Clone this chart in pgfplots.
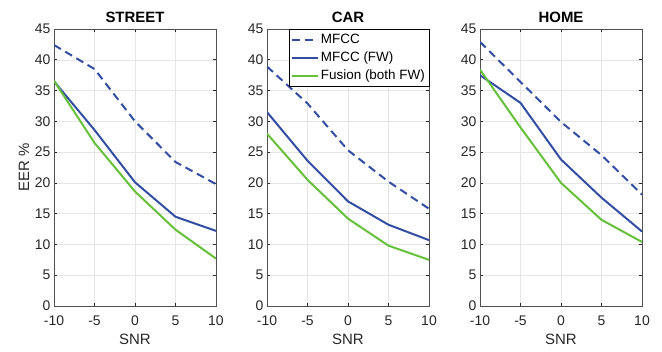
\documentclass[border=0pt]{standalone}
\usepackage{fontspec}
\setmainfont{Liberation Sans}
\usepackage{pgfplots}
\pgfplotsset{compat=1.18}
\definecolor{mblue}{RGB}{50,78,162}
\definecolor{mgreen}{RGB}{102,192,58}
\definecolor{axgray}{RGB}{38,38,38}
\pgfplotsset{
  panel/.style={
    scale only axis, width=162bp, height=277bp,
    xmin=-10, xmax=10, ymin=0, ymax=45,
    xtick={-10,-5,0,5,10}, ytick={0,5,...,45},
    grid=major, major grid style={gray!20, line width=0.5pt},
    axis line style={axgray!80, line width=0.7pt},
    tick style={axgray, line width=0.6pt},
    tick align=inside, major tick length=3bp,
    ticklabel style={font=\fontsize{14}{16}\selectfont, text=axgray},
    xticklabel style={yshift=-6bp},
    /pgf/number format/assume math mode=true,
    xlabel={SNR},
    xlabel style={font=\fontsize{15}{17}\selectfont, text=axgray, yshift=-2bp},
    title style={font=\bfseries\fontsize{15}{17}\selectfont, yshift=-3bp},
    anchor=south west,
  },
  mf/.style={mblue, line width=2pt, dash pattern=on 8bp off 5bp},
  fw/.style={mblue, line width=2pt},
  fu/.style={mgreen, line width=2pt},
}
\begin{document}
\begin{tikzpicture}
\useasboundingbox (0,0) rectangle (662bp,352bp);
\begin{axis}[panel, at={(54bp,46bp)}, title={STREET},
  ylabel={EER \%}, ylabel style={font=\fontsize{15}{17}\selectfont, text=axgray, yshift=-1bp}]
\addplot[mf] coordinates {(-10,42.4) (-5,38.5) (0,30.0) (5,23.4) (10,19.8)};
\addplot[fw] coordinates {(-10,36.5) (-5,28.6) (0,20.1) (5,14.5) (10,12.2)};
\addplot[fu] coordinates {(-10,36.6) (-5,26.5) (0,18.6) (5,12.4) (10,7.7)};
\end{axis}
\begin{axis}[panel, at={(267bp,46bp)}, title={CAR},
  legend style={at={(1,1)}, anchor=north east, draw=black, fill=white,
    font=\fontsize{13.5}{15}\selectfont, inner xsep=2pt, inner ysep=3pt, row sep=3pt,
    cells={anchor=west}},
  legend image code/.code={\draw[#1] (0bp,0bp) -- (26bp,0bp);}]
\addplot[mf] coordinates {(-10,38.9) (-5,32.9) (0,25.3) (5,20.2) (10,15.8)};
\addlegendentry{MFCC}
\addplot[fw] coordinates {(-10,31.5) (-5,23.6) (0,17.0) (5,13.2) (10,10.7)};
\addlegendentry{MFCC (FW)}
\addplot[fu] coordinates {(-10,28.0) (-5,20.5) (0,14.2) (5,9.8) (10,7.5)};
\addlegendentry{Fusion (both FW)}
\end{axis}
\begin{axis}[panel, at={(480bp,46bp)}, title={HOME}]
\addplot[mf] coordinates {(-10,42.9) (-5,36.4) (0,29.9) (5,24.5) (10,18.1)};
\addplot[fw] coordinates {(-10,37.5) (-5,33.0) (0,23.8) (5,17.6) (10,12.1)};
\addplot[fu] coordinates {(-10,38.4) (-5,29.0) (0,20.0) (5,14.0) (10,10.4)};
\end{axis}
\end{tikzpicture}
\end{document}
